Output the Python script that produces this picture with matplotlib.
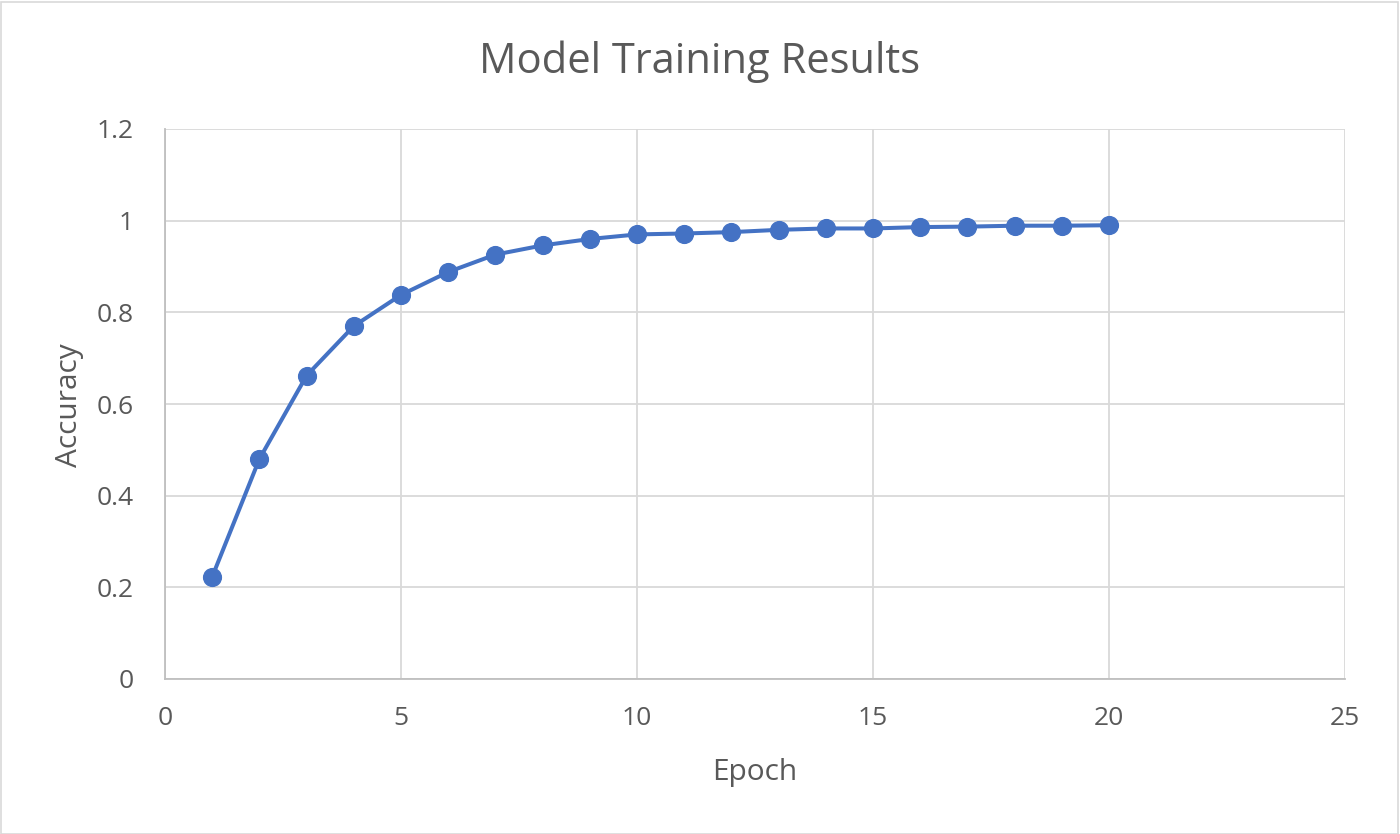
import matplotlib
matplotlib.use("Agg")
import matplotlib.pyplot as plt
from matplotlib.patches import Rectangle

plt.rcParams['font.family'] = ['Open Sans', 'DejaVu Sans']

epochs = list(range(1, 21))
accuracy = [0.223, 0.480, 0.662, 0.770, 0.838, 0.888, 0.926, 0.946, 0.960, 0.970,
            0.972, 0.975, 0.980, 0.983, 0.983, 0.986, 0.987, 0.989, 0.989, 0.990]
x_ticks = [0, 5, 10, 15, 20, 25]
y_ticks = [0, 0.2, 0.4, 0.6, 0.8, 1.0, 1.2]
y_tick_labels = ["0", "0.2", "0.4", "0.6", "0.8", "1", "1.2"]

TEXT = "#595959"
GRID = "#D9D9D9"
LINE = "#4472C4"

W, H = 1400, 834
fig = plt.figure(figsize=(W / 100, H / 100), dpi=100)
fig.patch.set_facecolor("white")
fig.patches.append(Rectangle((0.5 / W, 0.5 / H), 1 - 2.5 / W, 1 - 2.5 / H,
                             transform=fig.transFigure, fill=False,
                             edgecolor=GRID, linewidth=1.2))

ax = fig.add_axes([165 / W, 1 - 679 / H, (1345 - 165) / W, (679 - 129) / H])
ax.plot(epochs, accuracy, color=LINE, linewidth=2.9, marker="o",
        markersize=12.8, markerfacecolor=LINE, markeredgecolor=LINE, zorder=3)

ax.set_xlim(0, 25)
ax.set_ylim(0, 1.2)
ax.set_xticks(x_ticks)
ax.set_yticks(y_ticks)
ax.set_yticklabels(y_tick_labels)
ax.grid(True, color=GRID, linewidth=1.3)
ax.set_axisbelow(True)
ax.tick_params(length=0, labelsize=19, labelcolor=TEXT)
ax.tick_params(axis="y", pad=22.5)
ax.tick_params(axis="x", pad=19.5)
for side in ["top", "right"]:
    ax.spines[side].set_visible(False)
for side in ["left", "bottom"]:
    ax.spines[side].set_color("#BFBFBF")
    ax.spines[side].set_linewidth(1.3)

fig.text(700 / W, 1 - 73 / H, "Model Training Results", ha="center", va="baseline",
         fontsize=30, color=TEXT)
fig.text(755 / W, 1 - 780 / H, "Epoch", ha="center", va="baseline",
         fontsize=21.5, color=TEXT)
fig.text(70 / W, 1 - 405 / H, "Accuracy", ha="center", va="center",
         fontsize=21.5, color=TEXT, rotation=90)

fig.savefig("out.png", dpi=100, facecolor="white")
